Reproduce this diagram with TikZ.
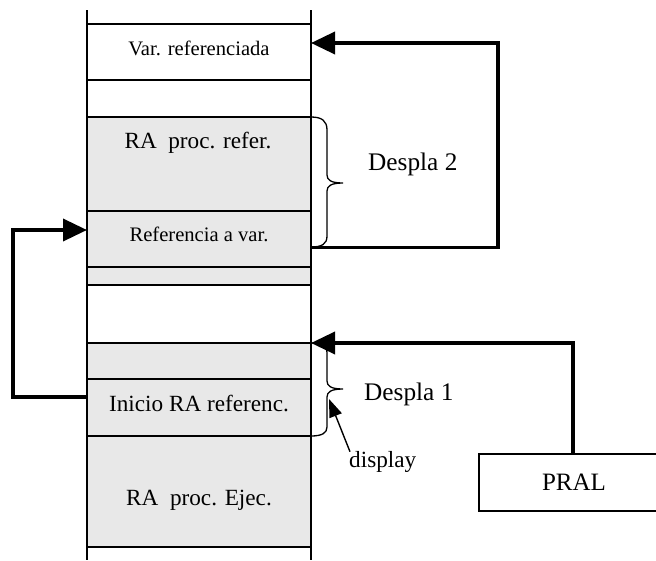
\documentclass[tikz,border=0pt]{standalone}
\usepackage{fontspec}
\setmainfont{Liberation Serif}
\usetikzlibrary{arrows.meta}
\definecolor{cellgray}{HTML}{E8E8E8}
\begin{document}
\begin{tikzpicture}[x=1pt,y=-1pt,
  cell/.style={draw=black, line width=1.3pt, minimum width=224pt, inner sep=0pt, outer sep=0pt, anchor=north west},
  graycell/.style={cell, fill=cellgray},
  colline/.style={draw=black, line width=1.3pt},
  lblS/.style={inner sep=0pt, font=\fontsize{20.6}{22}\selectfont},
  lblM/.style={inner sep=0pt, font=\fontsize{23.2}{25}\selectfont},
  lblL/.style={inner sep=0pt, font=\fontsize{25.3}{27}\selectfont},
  pralbox/.style={draw=black, line width=1.3pt, minimum width=190pt, minimum height=57pt, inner sep=0pt, outer sep=0pt, font=\fontsize{25}{27}\selectfont},
  conn/.style={line width=3.6pt, line join=miter, -{Triangle[length=24pt,width=22pt]}},
  dispconn/.style={line width=1.4pt, -{Triangle[length=18pt,width=13pt]}},
  bracepath/.style={draw=black, line width=1.3pt}
]
\useasboundingbox (0,0) rectangle (656,560);

% memory column cells
\node[cell, fill=white, minimum height=56pt] (var) at (87,24) {};
\node[graycell, minimum height=94pt] (raref) at (87,117) {};
\node[graycell, minimum height=56pt] (refvar) at (87,211) {};
\node[graycell, minimum height=18pt] (strip) at (87,267) {};
\node[graycell, minimum height=36pt] (gap) at (87,343) {};
\node[graycell, minimum height=57pt] (inicio) at (87,379) {};
\node[graycell, minimum height=111pt] (ejec) at (87,436) {};

% column side lines
\draw[colline] (87,10) -- (87,560);
\draw[colline] (311,10) -- (311,560);

% cell texts
\node[lblS, anchor=base] (tvar) at (199,55) {Var. referenciada};
\node[lblM, anchor=base] (traref) at (198,148) {RA\ \ proc. refer.};
\node[lblS, anchor=base] (trefvar) at (199,241) {Referencia a var.};
\node[lblM, anchor=base] (tinicio) at (199,411) {Inicio RA referenc.};
\node[lblM, anchor=base] (tejec) at (199,505) {RA\ \ proc. Ejec.};

% side labels
\node[lblL, anchor=base west] (d2) at (368,170) {Despla 2};
\node[lblL, anchor=base west] (d1) at (364,400) {Despla 1};
\node[lblM, anchor=base west] (disp) at (349,467) {display};

% PRAL box
\node[pralbox] (pral) at (574,482.5) {PRAL};

% braces
\draw[bracepath] (311,117) .. controls (322,117) and (327,121) .. (327,130) -- (327,175)
  .. controls (327,180) and (331,183) .. (343,183)
  .. controls (331,183) and (327,186) .. (327,191) -- (327,236)
  .. controls (327,244) and (322,247) .. (311,247);
\draw[bracepath] (311,343) .. controls (322,343) and (327,346) .. (327,353) -- (327,381)
  .. controls (327,386) and (331,389) .. (343,389)
  .. controls (331,389) and (327,392) .. (327,397) -- (327,427)
  .. controls (327,433) and (322,436) .. (311,436);

% connectors
\coordinate (a2r) at (498,247.5);
\coordinate (a2t) at (498,43);
\draw[conn] ([yshift=-8.5pt]refvar.east) -- (a2r) -- (a2t) -- (var.east |- a2t);

\coordinate (l1) at (13,397);
\coordinate (l2) at (13,230);
\draw[conn] ([yshift=10.5pt]inicio.west) -- (l1) -- (l2) -- (refvar.west |- l2);

\coordinate (p1) at (573,343);
\draw[conn] (pral.north -| p1) -- (p1) -- (gap.north east);

\coordinate (dtip) at (329,399);
\draw[dispconn] ([xshift=1pt,yshift=-1pt]disp.north west) -- (dtip);
\end{tikzpicture}
\end{document}
